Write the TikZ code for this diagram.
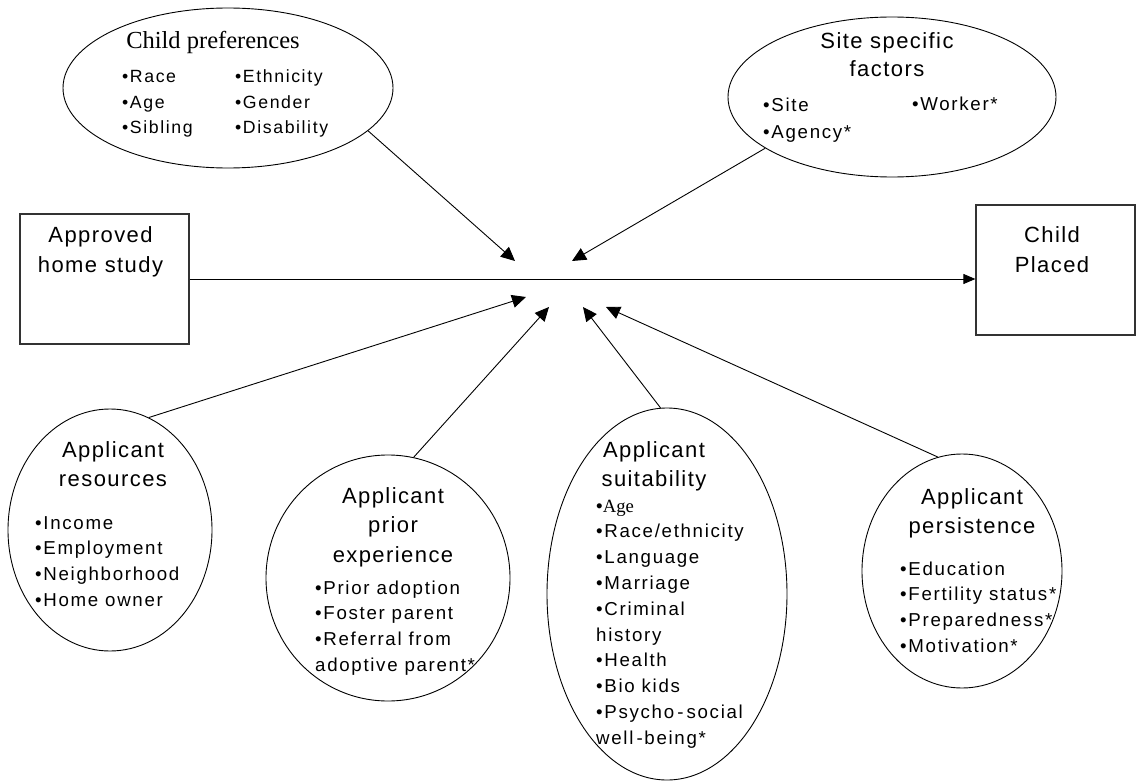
\documentclass[tikz,border=0pt]{standalone}
\usepackage{fontspec}
\setmainfont{Liberation Sans}
\newfontfamily\hdfont[LetterSpace=6.5]{Liberation Sans}
\newfontfamily\itfont[LetterSpace=9]{Liberation Sans}
\newfontfamily\tmfont{Liberation Serif}
\usetikzlibrary{shapes.geometric,arrows.meta}
\begin{document}
\begin{tikzpicture}[x=1pt,y=-1pt,
  ell/.style={draw, ellipse, inner sep=0pt, line width=0.9pt},
  box/.style={draw=black!80, rectangle, inner sep=0pt, line width=1.2pt},
  hd/.style={font=\hdfont\fontsize{22}{29.5}\selectfont, inner sep=0pt, align=center, anchor=base},
  itm/.style={font=\itfont\fontsize{18.7}{25.8}\selectfont, inner sep=0pt, align=left, anchor=base west},
  infl/.style={line width=0.9pt, -{Triangle[length=14pt,width=13pt]}},
  mainarr/.style={line width=1pt, -{Triangle[length=12pt,width=10pt]}}
]
\useasboundingbox (0,0) rectangle (1136,781);

% boxes (multi-line texts are placed by the baseline of their last line)
\node[box, minimum width=169pt, minimum height=130pt] (ahs) at (104.5,279) {};
\node[hd] (ahst) at (100.5,272.5) {Approved\\home study};
\node[box, minimum width=159pt, minimum height=130pt] (cpl) at (1055.5,270) {};
\node[hd] (cplt) at (1052,272.5) {Child\\Placed};

% ellipses
\node[ell, minimum width=330pt, minimum height=160pt] (cp) at (228,88) {};
\node[ell, minimum width=328pt, minimum height=160pt] (ss) at (892,97) {};
\node[ell, minimum width=204pt, minimum height=242pt] (res) at (110,530) {};
\node[ell, minimum width=244pt, minimum height=246pt] (pri) at (388,578) {};
\node[ell, minimum width=240pt, minimum height=372pt] (sui) at (667,594) {};
\node[ell, minimum width=200pt, minimum height=234pt] (per) at (962,571) {};

% child preferences
\node[inner sep=0pt, anchor=base, font=\tmfont\fontsize{24.5}{29}\selectfont] (cph) at (213,49) {Child preferences};
\node[itm, font=\itfont\fontsize{17.7}{25.5}\selectfont] (cpa) at (122,134) {•Race\\•Age\\•Sibling};
\node[itm, font=\itfont\fontsize{17.7}{25.5}\selectfont] (cpb) at (235,134) {•Ethnicity\\•Gender\\•Disability};

% site specific
\node[hd, font=\hdfont\fontsize{22}{28}\selectfont] (ssh) at (887,77) {Site specific\\factors};
\node[itm, font=\itfont\fontsize{18.7}{26.5}\selectfont] (ssa) at (763,138.5) {•Site\\•Agency*};
\node[itm] (ssb) at (912,111) {•Worker*};

% resources
\node[hd] (resh) at (113,486.5) {Applicant\\resources};
\node[itm] (resi) at (35,606.4) {•Income\\•Employment\\•Neighborhood\\•Home owner};

% prior experience
\node[hd] (prih) at (393,562) {Applicant\\prior\\experience};
\node[itm] (prii) at (315,671.4) {•Prior adoption\\•Foster parent\\•Referral from\\adoptive parent*};

% suitability
\node[hd] (suih) at (654,486.5) {Applicant\\suitability};
\node[itm] (suii) at (596,744.2) {•{\tmfont Age}\\•Race/ethnicity\\•Language\\•Marriage\\•Criminal\\history\\•Health\\•Bio kids\\•Psycho\,-\,social\\well\,-being*};

% persistence
\node[hd] (perh) at (972,533.5) {Applicant\\persistence};
\node[itm] (peri) at (900,652.4) {•Education\\•Fertility status*\\•Preparedness*\\•Motivation*};

% arrow tips
\coordinate (t1) at (515,261);
\coordinate (t2) at (572,261);
\coordinate (t3) at (526,297);
\coordinate (t4) at (549,307);
\coordinate (t5) at (583,307);
\coordinate (t6) at (606,307);

% connectors
\draw[mainarr] (ahs.east) -- (ahs.east -| cpl.west);
\draw[infl] (cp.-17.2) -- (t1);
\draw[infl] (ss.202.3) -- (t2);
\draw[infl] (res.71.4) -- (t3);
\draw[infl] (pri.78.5) -- (t4);
\draw[infl] (sui.92) -- (t5);
\draw[infl] (per.102.7) -- (t6);
\end{tikzpicture}
\end{document}
